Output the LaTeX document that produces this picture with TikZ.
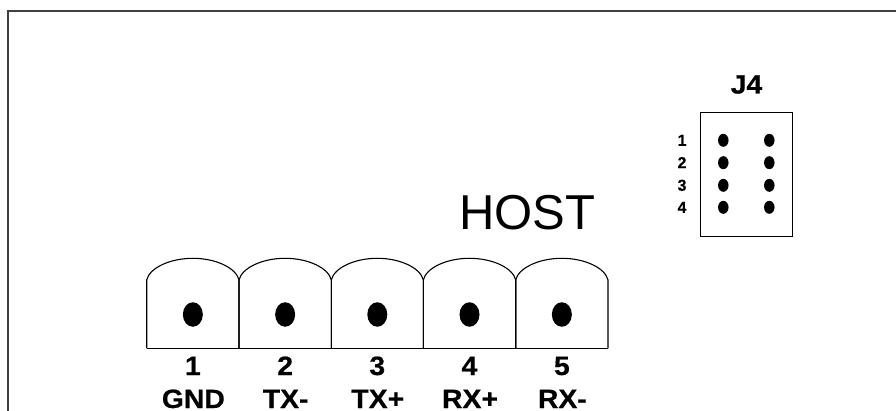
\documentclass[tikz,border=0pt]{standalone}
\usepackage{fontspec}
\usetikzlibrary{shapes.geometric}
\setmainfont{Liberation Sans}
\newfontfamily\widebold[FakeStretch=1.07,FakeBold=0.5]{Liberation Sans Bold}
\newfontfamily\plainbold[FakeBold=0.3]{Liberation Sans Bold}
\begin{document}
\begin{tikzpicture}[x=1pt,y=-1pt,
  line width=1pt,
  bigdot/.style={fill=black,draw=none,ellipse,minimum width=20pt,minimum height=24.5pt,inner sep=0pt},
  smalldot/.style={fill=black,draw=none,ellipse,minimum width=10.5pt,minimum height=13pt,inner sep=0pt},
  pinnum/.style={font=\widebold\fontsize{26.5}{27}\selectfont,anchor=base,inner sep=0pt},
  pinname/.style={font=\widebold\fontsize{26.5}{27}\selectfont,anchor=base,inner sep=0pt},
  jnum/.style={font=\plainbold\fontsize{16}{16}\selectfont,anchor=base,inner sep=0pt}]
\useasboundingbox (0,0) rectangle (896,411);
\fill[white] (0,0) rectangle (896,411);
% frame
\draw[line width=1.2pt,black!75] (8,412) -- (8,11) -- (896,11);
% HOST
\node[anchor=base,inner sep=0pt,font=\fontsize{49}{49}\selectfont] (host) at (527.5,230) {HOST};
% J4
\node[pinname,font=\widebold\fontsize{26.5}{27}\selectfont] (jt) at (746.5,93.5) {J4};
\node[draw,minimum width=92.3pt,minimum height=123.7pt,inner sep=0pt,anchor=north west,line width=1pt] (jbox) at (700,112) {};
\foreach \i/\y in {1/140.3,2/162.7,3/185.3,4/207.3}{
  \node[jnum] (jn\i) at (682,\y+5.5) {\i};
  \node[smalldot] (ja\i) at (723.3,\y) {};
  \node[smalldot] (jb\i) at (769.3,\y) {};
}
% terminals
\foreach \i/\a/\b/\name in {1/146.7/239/GND,2/239/331.3/TX-,3/331.3/423.3/TX+,4/423.3/515.7/RX+,5/515.7/608/RX-}{
  \pgfmathsetmacro{\m}{(\a+\b)/2}
  \pgfmathsetmacro{\w}{\b-\a}
  \draw[line width=1.1pt] (\a,348.3) -- (\a,280)
     .. controls (\a+0.03*\w,268) and (\a+0.25*\w,258.3) .. (\m,258.3)
     .. controls (\b-0.25*\w,258.3) and (\b-0.03*\w,268) .. (\b,280) -- (\b,348.3);
  \node[bigdot] (dot\i) at (\m,314.5) {};
  \node[pinnum] (num\i) at (\m,375) {\i};
  \node[pinname] (nm\i) at (\m+0.5,408) {\name};
}
\draw[line width=1.1pt] (146.7,348.3) -- (608,348.3);
\end{tikzpicture}
\end{document}
